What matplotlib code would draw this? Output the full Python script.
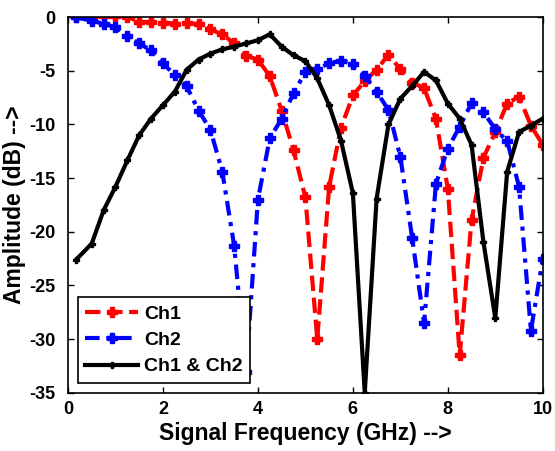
import matplotlib
matplotlib.use("Agg")
from matplotlib import pyplot as plt

plt.rcParams['font.family'] = ['Liberation Sans', 'DejaVu Sans']
plt.rcParams['font.weight'] = 'bold'
plt.rcParams['axes.unicode_minus'] = False

# frequency points (GHz)
freq = [0.17, 0.5, 0.75, 1.0, 1.25, 1.5, 1.75, 2.0, 2.25, 2.5,
        2.75, 3.0, 3.25, 3.5, 3.75, 4.0, 4.25, 4.5, 4.75, 5.0,
        5.25, 5.5, 5.75, 6.0, 6.25, 6.5, 6.75, 7.0, 7.25, 7.5,
        7.75, 8.0, 8.25, 8.5, 8.75, 9.0, 9.25, 9.5, 9.75, 10.0]

# amplitudes (dB)
ch1 = [0.0, 0.0, 0.1, 0.1, 0.05, -0.45, -0.45, -0.5, -0.6, -0.55,
       -0.65, -1.15, -1.6, -2.45, -3.6, -3.95, -5.5, -8.7, -12.4, -16.8,
       -30.0, -15.8, -10.3, -7.3, -5.95, -4.9, -3.5, -4.85, -6.1, -6.6,
       -9.5, -16.0, -31.5, -18.9, -13.1, -10.7, -8.05, -7.4, -10.1, -11.9]
ch2 = [0.0, -0.35, -0.6, -0.95, -1.8, -2.45, -3.1, -4.3, -5.4, -6.45,
       -8.7, -10.5, -14.4, -21.3, -33.1, -17.0, -11.3, -9.45, -7.1, -5.1,
       -4.85, -4.3, -4.05, -4.35, -5.45, -6.95, -8.65, -13.0, -20.6, -28.5,
       -15.5, -12.25, -10.2, -8.0, -8.85, -10.45, -11.55, -15.8, -29.2, -22.5]
both = [-22.6, -21.1, -18.0, -15.8, -13.35, -11.0, -9.45, -8.2, -6.95, -4.9,
        -3.95, -3.4, -3.0, -2.75, -2.45, -2.15, -1.6, -2.75, -3.55, -4.1,
        -5.7, -8.2, -11.5, -16.4, -35.0, -16.9, -10.0, -7.6, -6.4, -5.1,
        -5.9, -8.05, -9.45, -11.9, -20.95, -28.05, -14.4, -10.7, -10.1, -9.45]

fig = plt.figure(figsize=(5.55, 4.51), dpi=100)
ax = fig.add_axes([0.1225, 0.129, 0.8555, 0.833])

ax.plot(freq, ch1, color='red', linestyle='--', linewidth=3, marker='P',
        markersize=7, label='Ch1')
ax.plot(freq, ch2, color='blue', linestyle=(0, (3.5, 1.6, 1, 1.6)), linewidth=3,
        marker='P', markersize=7, label='Ch2')
ax.plot(freq, both, color='black', linestyle='-', linewidth=3, marker='P',
        markersize=5, label='Ch1 & Ch2')

ax.set_xlim(0, 10)
ax.set_ylim(-35, 0)
ax.set_xticks([0, 2, 4, 6, 8, 10])
ax.set_yticks([0, -5, -10, -15, -20, -25, -30, -35])
ax.tick_params(direction='in', top=True, right=True, labelsize=13, width=1, length=4)
ax.tick_params(axis='y', pad=9)
ax.tick_params(axis='x', pad=6)
for s in ax.spines.values():
    s.set_linewidth(1.2)

ax.set_xlabel('Signal Frequency (GHz) -->', fontsize=16.5, fontweight='bold', labelpad=3)
ax.set_ylabel('Amplitude (dB) -->', fontsize=16.5, fontweight='bold', labelpad=2)

leg = ax.legend(loc='lower left', fontsize=14, fancybox=False, framealpha=1,
                edgecolor='black', handlelength=2.7, handletextpad=0.3,
                labelspacing=0.45, borderaxespad=0.5)
leg.get_frame().set_linewidth(1.2)

fig.savefig('out.png', dpi=100)
